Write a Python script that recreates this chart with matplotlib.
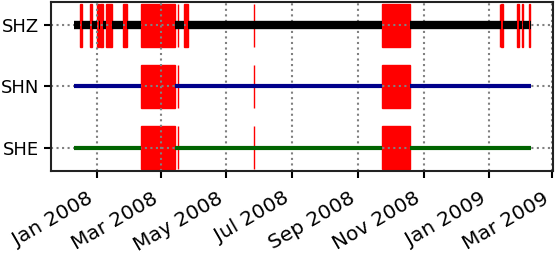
import matplotlib
matplotlib.use("Agg")
import matplotlib.pyplot as plt
import matplotlib.dates as mdates
from matplotlib.patches import Rectangle
import pandas as pd

channels = ["SHE", "SHN", "SHZ"]
line_colors = ["darkgreen", "darkblue", "black"]
line_widths = [3.0, 3.0, 6.0]

data_start = "2007-12-10 19:00"
data_end = "2009-02-09 01:00"

gaps_SHZ = [
    ("2007-12-16 00:00", "2007-12-18 00:00"),
    ("2007-12-26 00:00", "2007-12-28 00:00"),
    ("2008-01-01 00:00", "2008-01-03 12:00"),
    ("2008-01-04 12:00", "2008-01-07 06:00"),
    ("2008-01-10 00:00", "2008-01-15 12:00"),
    ("2008-01-25 12:00", "2008-01-29 00:00"),
    ("2008-02-11 00:00", "2008-03-14 00:00"),
    ("2008-03-16 12:00", "2008-03-17 00:00"),
    ("2008-03-22 02:00", "2008-03-26 10:00"),
    ("2008-05-26 10:00", "2008-05-27 00:00"),
    ("2008-09-22 19:00", "2008-10-19 12:00"),
    ("2009-01-10 17:00", "2009-01-11 14:00"),
    ("2009-01-12 02:00", "2009-01-14 10:00"),
    ("2009-01-26 17:00", "2009-01-29 02:00"),
    ("2009-02-01 00:00", "2009-02-01 14:00"),
    ("2009-02-07 14:00", "2009-02-08 02:00"),
]
gaps_SHN = [
    ("2008-02-11 00:00", "2008-03-14 00:00"),
    ("2008-03-16 12:00", "2008-03-17 00:00"),
    ("2008-05-26 10:00", "2008-05-27 00:00"),
    ("2008-09-22 19:00", "2008-10-19 12:00"),
]
gaps_SHE = [
    ("2008-02-11 00:00", "2008-03-14 00:00"),
    ("2008-03-16 12:00", "2008-03-17 00:00"),
    ("2008-05-26 10:00", "2008-05-27 00:00"),
    ("2008-09-22 19:00", "2008-10-19 12:00"),
]
gaps = {"SHE": gaps_SHE, "SHN": gaps_SHN, "SHZ": gaps_SHZ}

xlim = ("2007-11-19 10:00", "2009-03-01 14:00")
tick_months = [1, 3, 5, 7, 9, 11]


def num(s):
    return mdates.date2num(pd.Timestamp(s).to_pydatetime())


fig = plt.figure(figsize=(5.55, 2.54), dpi=100)
ax = fig.add_axes([0.0919, 0.327, 0.9045, 0.665])

for i, ch in enumerate(channels):
    g = [(num(a), num(b)) for a, b in gaps[ch]]
    for a, b in g:
        ax.add_patch(Rectangle((a, i - 0.35), b - a, 0.7, facecolor="red",
                               edgecolor="red", linewidth=1.0, zorder=1))
    cur = num(data_start)
    segs = []
    for a, b in sorted(g):
        if a > cur:
            segs.append((cur, a))
        cur = max(cur, b)
    segs.append((cur, num(data_end)))
    for a, b in segs:
        ax.plot([a, b], [i, i], color=line_colors[i], linewidth=line_widths[i],
                solid_capstyle="butt", zorder=3)

ax.set_xlim(num(xlim[0]), num(xlim[1]))
ax.set_ylim(-0.374, 2.374)
ax.set_yticks(range(len(channels)))
ax.set_yticklabels(channels)

ax.xaxis.set_major_locator(mdates.MonthLocator(bymonth=tick_months))
ax.xaxis.set_major_formatter(mdates.DateFormatter("%b %Y"))

ax.grid(True, linestyle=":", color="gray", linewidth=1.5)
ax.tick_params(length=4.8, width=1.5)
ax.tick_params(axis="y", labelsize=13)
ax.tick_params(axis="x", labelsize=14.5, pad=8)
for lbl in ax.get_xticklabels():
    lbl.set_rotation(30)
    lbl.set_ha("right")
for s in ax.spines.values():
    s.set_linewidth(1.5)
    s.set_color("#222222")

fig.savefig("out.png", dpi=100)
